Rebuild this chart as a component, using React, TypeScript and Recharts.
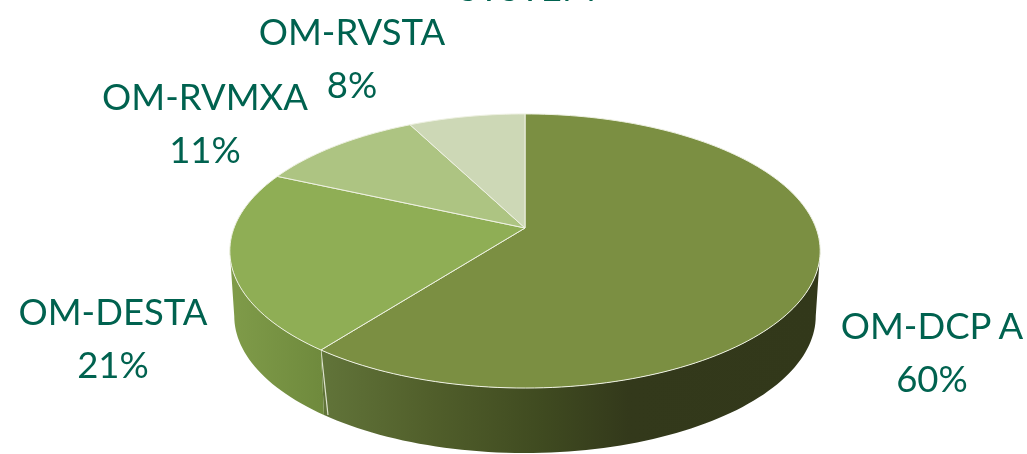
import React from "react";
import { PieChart, Pie, Cell } from "recharts";

const categories = ["OM-DCP A", "OM-DESTA", "OM-RVMXA", "OM-RVSTA"];
const shares = [60.4, 21.4, 10.7, 7.5];
const topColors = ["#7b8f42", "#8fae55", "#adc482", "#cdd8b6"];
const titleFragment = "SYSTEM";

const chartData = categories.map((name, i) => ({ name, value: shares[i] }));

const W = 1027;
const H = 454;
const CX = 525;
const CY = 228;
const R = 291;
const TILT = 0.4577; // vertical foreshortening of the top face
const PERSP = 0.1677; // near edge appears bigger than far edge
const DEPTH = 65;
const WALL_SHRINK = 0.985;
const TEAL = "#00624f";
const FONT = "Lato, 'Open Sans', sans-serif";
const SIDE_A = 99.65;
const SIDE_B = 260.35;

// Label centres per slice
const labelSpots = [
  { x: 932, y: 339 },
  { x: 113, y: 325 },
  { x: 205, y: 110 },
  { x: 352, y: 45 },
];
const LINE_GAP = 53;

function project(cx: number, cy: number, r: number, deg: number) {
  const t = (deg * Math.PI) / 180;
  const X = Math.sin(t);
  const Y = Math.cos(t);
  const d = 1 + PERSP * Y;
  return { x: cx + (r * X) / d, y: cy - (r * TILT * Y) / d };
}

function arcPoints(cx: number, cy: number, r: number, a: number, b: number) {
  const n = Math.max(2, Math.ceil(Math.abs(b - a) / 1.5));
  const pts = [];
  for (let i = 0; i <= n; i++) pts.push(project(cx, cy, r, a + ((b - a) * i) / n));
  return pts;
}

const toPath = (pts: { x: number; y: number }[]) =>
  pts.map((p, i) => `${i ? "L" : "M"}${p.x.toFixed(2)},${p.y.toFixed(2)}`).join(" ");

function Slice3D(props: any) {
  const { cx, cy, outerRadius, startAngle, endAngle, fill, name } = props;
  const a = 90 - startAngle;
  const b = 90 - endAngle;
  const idx = categories.indexOf(name);
  const top = arcPoints(cx, cy, outerRadius, a, b);
  const wa = Math.max(a, SIDE_A);
  const wb = Math.min(b, SIDE_B);
  let wall = null;
  if (wb > wa) {
    const rim = arcPoints(cx, cy, outerRadius, wa, wb);
    const low = rim
      .map((p) => ({ x: cx + (p.x - cx) * WALL_SHRINK, y: p.y + DEPTH }))
      .reverse();
    wall = (
      <path
        d={toPath([...rim, ...low]) + " Z"}
        fill={`url(#wall${idx})`}
        stroke="none"
      />
    );
  }
  let seam = null;
  if (b > SIDE_A && b < SIDE_B) {
    const p = project(cx, cy, outerRadius, b);
    seam = (
      <path
        d={`M${p.x},${p.y} L${cx + (p.x - cx) * WALL_SHRINK + 4},${p.y + DEPTH}`}
        stroke="#dfe5cf"
        strokeWidth={1.2}
        fill="none"
      />
    );
  }
  return (
    <g>
      {wall}
      {seam}
      <path
        d={`M${cx},${cy} ${toPath(top).replace("M", "L")} Z`}
        fill={fill}
        stroke="#eef1e2"
        strokeWidth={1}
      />
    </g>
  );
}

function renderLabel(props: any) {
  const { index, name, value } = props;
  const s = labelSpots[index];
  return (
    <text
      key={name}
      textAnchor="middle"
      fill={TEAL}
      fontFamily={FONT}
      fontSize={36.5}
    >
      <tspan x={s.x} y={s.y}>{name}</tspan>
      <tspan x={s.x} y={s.y + LINE_GAP}>{`${Math.round(value)}%`}</tspan>
    </text>
  );
}

export default function App() {
  return (
    <div
      style={{
        position: "fixed",
        left: 0,
        top: 0,
        width: W,
        height: H,
        overflow: "hidden",
        background: "#fff",
        filter: "blur(0.6px)",
      }}
    >
      <PieChart width={W} height={H} margin={{ top: 0, right: 0, bottom: 0, left: 0 }}>
        <defs>
          <linearGradient id="wall0" gradientUnits="userSpaceOnUse" x1={318} x2={820} y1={0} y2={0}>
            <stop offset="0" stopColor="#62753a" />
            <stop offset="0.22" stopColor="#515f2b" />
            <stop offset="0.45" stopColor="#3f4a20" />
            <stop offset="0.62" stopColor="#33391b" />
            <stop offset="1" stopColor="#32381a" />
          </linearGradient>
          <linearGradient id="wall1" gradientUnits="userSpaceOnUse" x1={232} x2={322} y1={0} y2={0}>
            <stop offset="0" stopColor="#7f9b49" />
            <stop offset="1" stopColor="#6f8a3d" />
          </linearGradient>
          <linearGradient id="wall2" gradientUnits="userSpaceOnUse" x1={232} x2={322} y1={0} y2={0}>
            <stop offset="0" stopColor="#adc482" />
            <stop offset="1" stopColor="#adc482" />
          </linearGradient>
          <linearGradient id="wall3" gradientUnits="userSpaceOnUse" x1={232} x2={322} y1={0} y2={0}>
            <stop offset="0" stopColor="#cdd8b6" />
            <stop offset="1" stopColor="#cdd8b6" />
          </linearGradient>
        </defs>
        <text x={527} y={1} textAnchor="middle" fill={TEAL} fontFamily={FONT} fontSize={36.5}>
          {titleFragment}
        </text>
        <Pie
          data={chartData}
          dataKey="value"
          nameKey="name"
          cx={CX}
          cy={CY}
          outerRadius={R}
          startAngle={90}
          endAngle={-270}
          isAnimationActive={false}
          shape={Slice3D}
          label={renderLabel}
          labelLine={false}
          stroke="none"
        >
          {chartData.map((d, i) => (
            <Cell key={d.name} fill={topColors[i]} />
          ))}
        </Pie>
      </PieChart>
    </div>
  );
}
